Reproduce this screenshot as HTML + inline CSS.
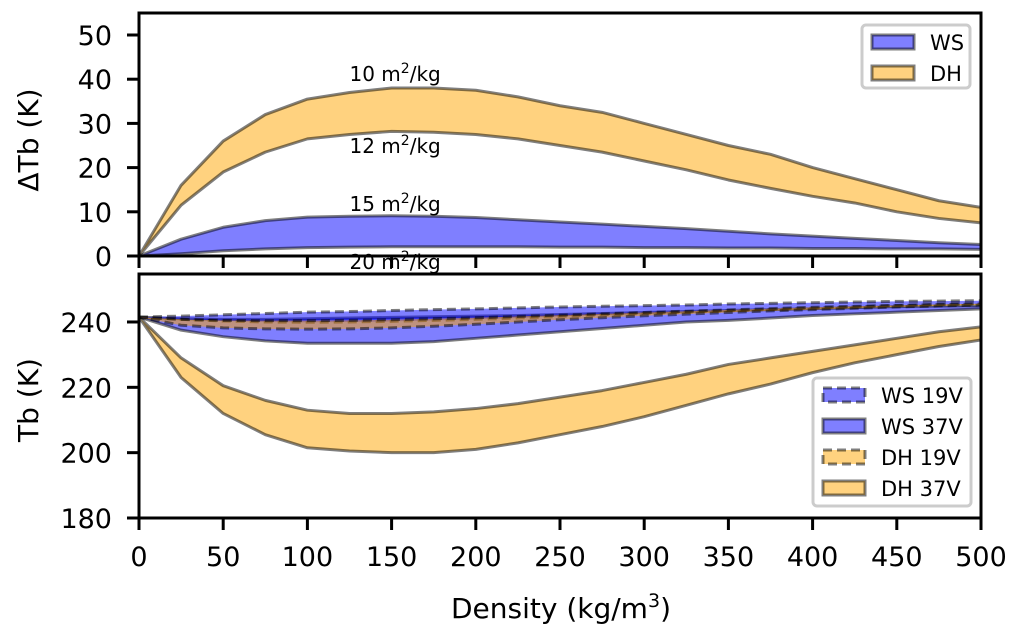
<!DOCTYPE html>
<html><head><meta charset="utf-8"><style>
body{margin:0;background:#fff}
text{font-family:"DejaVu Sans","Liberation Sans",sans-serif;fill:#000}
</style></head><body>
<svg id="chart" width="1017" height="634" viewBox="0 0 1017 634" xmlns="http://www.w3.org/2000/svg">
<g id="topPanel"></g>
<g id="botPanel"></g>
</svg>
<script>
const density=[0,25,50,75,100,125,150,175,200,225,250,275,300,325,350,375,400,425,450,475,500];
const dh10=[0,16,26,32,35.5,37,38,38,37.5,36,34,32.5,30,27.5,25,23,20,17.5,15,12.5,11];
const dh12=[0,11.5,19,23.5,26.5,27.5,28.2,28,27.5,26.5,25,23.5,21.5,19.5,17.2,15.3,13.5,12,10,8.5,7.5];
const ws15=[0,3.8,6.5,8,8.8,9,9.1,9,8.7,8.2,7.7,7.2,6.7,6.2,5.6,5.0,4.5,4,3.5,3,2.6];
const ws20=[0,0.5,1.2,1.6,1.9,2.0,2.1,2.1,2.1,2.1,2.0,2.0,1.9,1.9,1.8,1.8,1.7,1.7,1.6,1.6,1.5];
const ws19Up=[241.5,241.8,242.2,242.6,243,243.2,243.5,243.8,244,244.3,244.6,244.8,245,245.2,245.5,245.7,245.9,246.1,246.3,246.4,246.5];
const ws19Lo=[241.5,240.8,240.3,240,239.9,240,240.2,240.5,240.8,241.2,241.7,242.2,242.6,243,243.4,243.8,244.2,244.6,245,245.3,245.5];
const ws37Up=[241.5,241,240.8,240.8,241,241.2,241.4,241.6,241.8,242,242.3,242.6,242.9,243.2,243.5,243.8,244.1,244.4,244.7,244.9,245];
const ws37Lo=[241.5,237.5,235.5,234.2,233.5,233.5,233.5,234,235,236,237,238,239,240,240.5,241.2,242,242.5,243,243.5,244];
const dh19Up=[241.5,240.8,240.5,240.4,240.4,240.5,240.7,241,241.3,241.7,242.1,242.5,242.9,243.3,243.7,244.1,244.5,244.8,245.1,245.4,245.6];
const dh19Lo=[241.5,239,238.2,237.9,237.8,237.9,238.2,238.7,239.3,240,240.7,241.3,241.9,242.4,242.9,243.4,243.8,244.2,244.6,244.9,245.2];
const dh37Up=[241.5,229,220.5,216,213,212,212,212.5,213.5,215,217,219,221.5,224,227,229,231,233,235,237,238.5];
const dh37Lo=[241.5,223,212,205.5,201.5,200.5,200,200,201,203,205.5,208,211,214.5,218,221,224.5,227.5,230,232.5,234.5];
const xTicks=[0,50,100,150,200,250,300,350,400,450,500];
const topTicks=[0,10,20,30,40,50];
const botTicks=[180,200,220,240];

const NS="http://www.w3.org/2000/svg";
const X0=139,X1=981;
const xs=v=>X0+(v-0)/500*(X1-X0);
const ysT=v=>256-v*4.42;
const ysB=v=>518-(v-180)*3.267;
function mk(p,t,a,txt){const e=document.createElementNS(NS,t);for(const k in a)e.setAttribute(k,a[k]);if(txt!=null)e.textContent=txt;p.appendChild(e);return e;}
function band(g,ys,up,lo,fill,dash,name){
  let d="M"+density.map((x,i)=>xs(x)+","+ys(up[i])).join("L")+"L"+density.slice().reverse().map((x,j)=>{const i=density.length-1-j;return xs(x)+","+ys(lo[i]);}).join("L")+"Z";
  const p=mk(g,"path",{d:d,fill:fill,"fill-opacity":0.5,stroke:"#000","stroke-opacity":0.5,"stroke-width":3,"stroke-dasharray":dash?"9,5":"none","stroke-linejoin":"round"});
  
  
}
const topG=document.getElementById("topPanel"),botG=document.getElementById("botPanel");
const tClip=mk(topG,"clipPath",{id:"ct"});mk(tClip,"rect",{x:X0,y:13,width:X1-X0,height:243});
const bClip=mk(botG,"clipPath",{id:"cb"});mk(bClip,"rect",{x:X0,y:274,width:X1-X0,height:244});
const tg=mk(topG,"g",{"clip-path":"url(#ct)"}),bg=mk(botG,"g",{"clip-path":"url(#cb)"});
band(tg,ysT,dh10,dh12,"#ffa500",false,"dh-band");
band(tg,ysT,ws15,ws20,"#0000ff",false,"ws-band");
band(bg,ysB,dh37Up,dh37Lo,"#ffa500",false,"dh-37v-band");
band(bg,ysB,ws37Up,ws37Lo,"#0000ff",false,"ws-37v-band");
band(bg,ysB,ws19Up,ws19Lo,"#0000ff",true,"ws-19v-band");
band(bg,ysB,dh19Up,dh19Lo,"#ffa500",true,"dh-19v-band");
[["10",125,81],["12",125,153],["15",125,211],["20",125,269]].forEach(l=>{
  const t=mk(topG,"text",{x:xs(l[1]),y:l[2],"font-size":20});
  t.innerHTML=l[0]+" m<tspan dy='-8' font-size='14'>2</tspan><tspan dy='8'>/kg</tspan>";
  
  
});
mk(topG,"rect",{x:X0,y:13,width:X1-X0,height:243,fill:"none",stroke:"#000","stroke-width":3});
mk(botG,"rect",{x:X0,y:274,width:X1-X0,height:244,fill:"none",stroke:"#000","stroke-width":3});
topTicks.forEach(v=>{const y=ysT(v);mk(topG,"line",{x1:X0-12,x2:X0,y1:y,y2:y,stroke:"#000","stroke-width":3});
  const t=mk(topG,"text",{x:X0-27,y:y+10,"font-size":27,"text-anchor":"end"},v);});
botTicks.forEach(v=>{const y=ysB(v);mk(botG,"line",{x1:X0-12,x2:X0,y1:y,y2:y,stroke:"#000","stroke-width":3});
  const t=mk(botG,"text",{x:X0-27,y:y+10,"font-size":27,"text-anchor":"end"},v);});
xTicks.forEach(v=>{const x=xs(v);mk(topG,"line",{x1:x,x2:x,y1:256,y2:268,stroke:"#000","stroke-width":3});mk(botG,"line",{x1:x,x2:x,y1:518,y2:530,stroke:"#000","stroke-width":3});
  const t=mk(botG,"text",{x:x,y:566,"font-size":27,"text-anchor":"middle"},v);});
let t=mk(topG,"text",{x:0,y:0,"font-size":28,"text-anchor":"middle",transform:"translate(38,140) rotate(-90)"},"ΔTb (K)");
t=mk(botG,"text",{x:0,y:0,"font-size":28,"text-anchor":"middle",transform:"translate(38,400) rotate(-90)"},"Tb (K)");
t=mk(botG,"text",{x:561,y:618,"font-size":28,"text-anchor":"middle"});t.innerHTML="Density (kg/m<tspan dy='-11' font-size='19'>3</tspan><tspan dy='11'>)</tspan>";
function legend(g,x,y,w,h,items,name){
  const lg=mk(g,"g",{});
  mk(lg,"rect",{x:x,y:y,width:w,height:h,rx:4,fill:"#fff","fill-opacity":0.8,stroke:"#ccc","stroke-width":3});
  items.forEach((it,i)=>{const yy=y+10+i*31;
    mk(lg,"rect",{x:x+10,y:yy,width:42,height:14,fill:it[1],"fill-opacity":0.5,stroke:"#000","stroke-opacity":0.5,"stroke-width":3,"stroke-dasharray":it[2]?"9,5":"none"});
    const tt=mk(lg,"text",{x:x+68,y:yy+15,"font-size":21},it[0]);});
}
legend(topG,862,25,108,63,[["WS","#0000ff",false],["DH","#ffa500",false]],"top-legend");
legend(botG,813,378,158,128,[["WS 19V","#0000ff",true],["WS 37V","#0000ff",false],["DH 19V","#ffa500",true],["DH 37V","#ffa500",false]],"bottom-legend");
</script>
</body></html>
